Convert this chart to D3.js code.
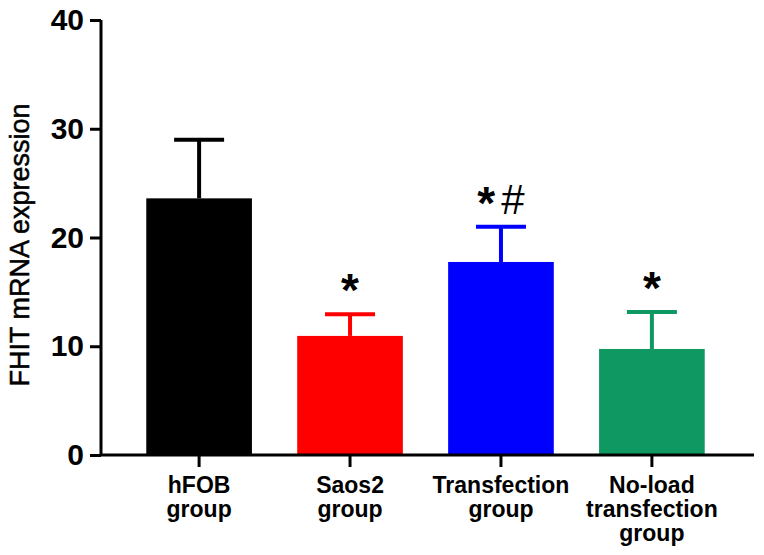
<!DOCTYPE html>
<html>
<meta charset="utf-8">
<head>
    <title>FHIT mRNA expression</title>
    <script src="https://d3js.org/d3.v7.min.js" charset="utf-8"></script>
    <style>
    body { margin: 0; background: white; }
    svg { display: block; font-family: "Liberation Sans", Arial, sans-serif; }
    </style>
</head>

<body>
    <script>

    // Data
    var groups = ["hFOB group", "Saos2 group", "Transfection group", "No-load transfection group"];
    var labelLines = [["hFOB", "group"], ["Saos2", "group"], ["Transfection", "group"], ["No-load", "transfection", "group"]];
    var means = [23.6, 10.95, 17.75, 9.75];
    var errors = [5.4, 2.0, 3.25, 3.4];
    var marks = ["", "*", "*#", "*"];
    var colors = ["#000000", "#ff0000", "#0000ff", "#109862"];
    var yTicks = [0, 10, 20, 30, 40];

    // Dimensions
    var width = 764;
    var height = 555;

    var svg = d3.select("body")
        .append("svg")
        .attr("width", width)
        .attr("height", height);

    // Scales
    var x = d3.scaleBand()
        .domain(groups)
        .range([101, 750])
        .paddingInner(0.3)
        .paddingOuter(0.3);

    var y = d3.scaleLinear()
        .domain([0, 40])
        .range([455, 20]);

    var data = groups.map(function(g, i) {
        return { name: g, lines: labelLines[i], mean: means[i], err: errors[i], mark: marks[i], color: colors[i] };
    });

    // Bars
    svg.selectAll("rect.bar")
        .data(data)
        .enter()
        .append("rect")
        .attr("class", "bar")
        .attr("x", function(d) { return x(d.name); })
        .attr("y", function(d) { return y(d.mean); })
        .attr("width", x.bandwidth())
        .attr("height", function(d) { return y(0) - y(d.mean); })
        .attr("fill", function(d) { return d.color; });

    // Error bars (upper only)
    var capHalf = 25;
    var eb = svg.selectAll("g.err")
        .data(data)
        .enter()
        .append("g")
        .attr("class", "err")
        .attr("stroke", function(d) { return d.color; })
        .attr("stroke-width", 4);

    eb.append("line")
        .attr("x1", function(d) { return x(d.name) + x.bandwidth() / 2; })
        .attr("x2", function(d) { return x(d.name) + x.bandwidth() / 2; })
        .attr("y1", function(d) { return y(d.mean); })
        .attr("y2", function(d) { return y(d.mean + d.err); });

    eb.append("line")
        .attr("x1", function(d) { return x(d.name) + x.bandwidth() / 2 - capHalf; })
        .attr("x2", function(d) { return x(d.name) + x.bandwidth() / 2 + capHalf; })
        .attr("y1", function(d) { return y(d.mean + d.err); })
        .attr("y2", function(d) { return y(d.mean + d.err); });

    // Significance marks: big bold asterisk, hash beside it
    var mk = svg.selectAll("text.mark")
        .data(data.filter(function(d) { return d.mark !== ""; }))
        .enter()
        .append("text")
        .attr("class", "mark")
        .attr("x", function(d) { return x(d.name) + x.bandwidth() / 2; })
        .attr("y", function(d) { return y(d.mean + d.err) - 8; })
        .attr("text-anchor", "middle")
        .attr("fill", "#000");

    mk.each(function(d) {
        var t = d3.select(this);
        d.mark.split("").forEach(function(c) {
            if (c === "*") {
                t.append("tspan")
                    .style("font-size", "46px")
                    .style("font-weight", "bold")
                    .text(c);
            } else {
                t.append("tspan")
                    .style("font-size", "42px")
                    .attr("dx", 6)
                    .attr("dy", -5)
                    .text(c);
            }
        });
    });

    // Y axis
    var yAxis = svg.append("g")
        .attr("transform", "translate(101,0)")
        .call(d3.axisLeft(y).tickValues(yTicks).tickSize(11).tickPadding(6));

    yAxis.selectAll("path, line")
        .attr("stroke", "#000")
        .attr("stroke-width", 3);
    yAxis.select("path").attr("d", "M0," + y(40) + "V" + y(0));
    yAxis.selectAll("text")
        .attr("font-size", 30)
        .attr("font-weight", "bold")
        .attr("font-family", "Liberation Sans, Arial, sans-serif")
        .attr("fill", "#000");

    // X axis
    var xAxis = svg.append("g")
        .attr("transform", "translate(0," + y(0) + ")")
        .call(d3.axisBottom(x).tickSize(12).tickFormat(""));

    xAxis.selectAll("path, line")
        .attr("stroke", "#000")
        .attr("stroke-width", 3);
    xAxis.select("path").attr("d", "M100,0H754");

    // Multi-line category labels
    xAxis.selectAll(".tick")
        .data(data)
        .each(function(d) {
            var t = d3.select(this).append("text")
                .attr("fill", "#000")
                .attr("font-size", 23)
                .attr("font-weight", "bold")
                .attr("font-family", "Liberation Sans, Arial, sans-serif")
                .attr("text-anchor", "middle");
            d.lines.forEach(function(line, i) {
                t.append("tspan")
                    .attr("x", 0)
                    .attr("y", 38 + i * 24)
                    .text(line);
            });
        });

    // Y axis title
    svg.append("text")
        .attr("transform", "translate(29,245) rotate(-90)")
        .attr("text-anchor", "middle")
        .attr("font-size", 27)
        .attr("fill", "#000")
        .attr("stroke", "#000")
        .attr("stroke-width", 0.5)
        .text("FHIT mRNA expression");

    </script>
</body>
</html>
